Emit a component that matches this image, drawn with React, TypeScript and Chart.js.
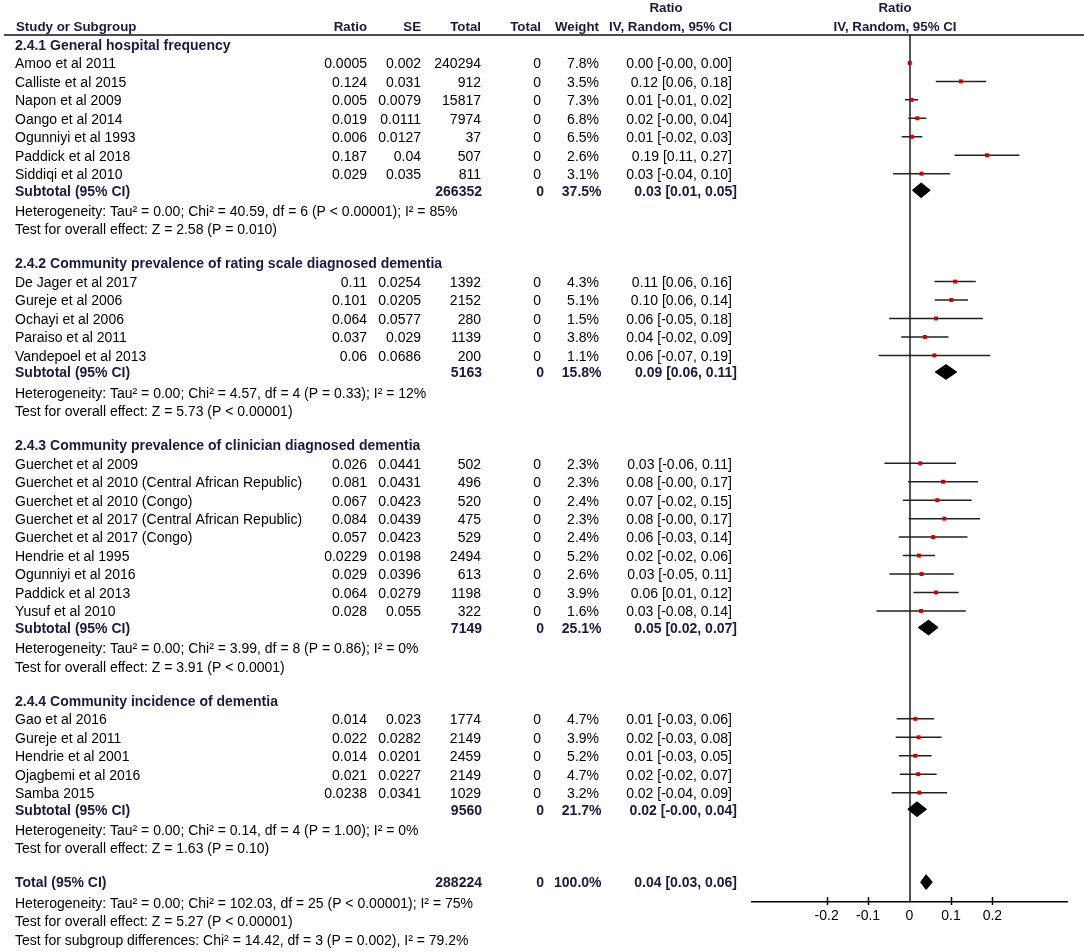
import React, { useEffect, useRef } from "react";
import { Chart, registerables } from "chart.js";

Chart.register(...registerables);

// ---------- data ----------
const groupTitles = [
  "2.4.1 General hospital frequency",
  "2.4.2 Community prevalence of rating scale diagnosed dementia",
  "2.4.3 Community prevalence of clinician diagnosed dementia",
  "2.4.4 Community incidence of dementia",
];

const studyNames = [
  "Amoo et al 2011",
  "Calliste et al 2015",
  "Napon et al 2009",
  "Oango et al 2014",
  "Ogunniyi et al 1993",
  "Paddick et al 2018",
  "Siddiqi et al 2010",
  "De Jager et al 2017",
  "Gureje et al 2006",
  "Ochayi et al 2006",
  "Paraiso et al 2011",
  "Vandepoel et al 2013",
  "Guerchet et al 2009",
  "Guerchet et al 2010 (Central African Republic)",
  "Guerchet et al 2010 (Congo)",
  "Guerchet et al 2017 (Central African Republic)",
  "Guerchet et al 2017 (Congo)",
  "Hendrie et al 1995",
  "Ogunniyi et al 2016",
  "Paddick et al 2013",
  "Yusuf et al 2010",
  "Gao et al 2016",
  "Gureje et al 2011",
  "Hendrie et al 2001",
  "Ojagbemi et al 2016",
  "Samba 2015",
];

const studyGroup = [0, 0, 0, 0, 0, 0, 0, 1, 1, 1, 1, 1, 2, 2, 2, 2, 2, 2, 2, 2, 2, 3, 3, 3, 3, 3];

const ratioText = [
  "0.0005", "0.124", "0.005", "0.019", "0.006", "0.187", "0.029",
  "0.11", "0.101", "0.064", "0.037", "0.06",
  "0.026", "0.081", "0.067", "0.084", "0.057", "0.0229", "0.029", "0.064", "0.028",
  "0.014", "0.022", "0.014", "0.021", "0.0238",
];

const seText = [
  "0.002", "0.031", "0.0079", "0.0111", "0.0127", "0.04", "0.035",
  "0.0254", "0.0205", "0.0577", "0.029", "0.0686",
  "0.0441", "0.0431", "0.0423", "0.0439", "0.0423", "0.0198", "0.0396", "0.0279", "0.055",
  "0.023", "0.0282", "0.0201", "0.0227", "0.0341",
];

const totals = [
  240294, 912, 15817, 7974, 37, 507, 811,
  1392, 2152, 280, 1139, 200,
  502, 496, 520, 475, 529, 2494, 613, 1198, 322,
  1774, 2149, 2459, 2149, 1029,
];

const controlTotals = [
  0, 0, 0, 0, 0, 0, 0,
  0, 0, 0, 0, 0,
  0, 0, 0, 0, 0, 0, 0, 0, 0,
  0, 0, 0, 0, 0,
];

const weights = [
  7.8, 3.5, 7.3, 6.8, 6.5, 2.6, 3.1,
  4.3, 5.1, 1.5, 3.8, 1.1,
  2.3, 2.3, 2.4, 2.3, 2.4, 5.2, 2.6, 3.9, 1.6,
  4.7, 3.9, 5.2, 4.7, 3.2,
];

const subTotals = [266352, 5163, 7149, 9560];
const subControl = [0, 0, 0, 0];
const subWeights = [37.5, 15.8, 25.1, 21.7];
const subEst = [0.028, 0.088, 0.046, 0.018];
const subLow = [0.007, 0.062, 0.021, -0.004];
const subHigh = [0.05, 0.114, 0.069, 0.041];

const hetTexts = [
  "Heterogeneity: Tau\u00B2 = 0.00; Chi\u00B2 = 40.59, df = 6 (P < 0.00001); I\u00B2 = 85%",
  "Heterogeneity: Tau\u00B2 = 0.00; Chi\u00B2 = 4.57, df = 4 (P = 0.33); I\u00B2 = 12%",
  "Heterogeneity: Tau\u00B2 = 0.00; Chi\u00B2 = 3.99, df = 8 (P = 0.86); I\u00B2 = 0%",
  "Heterogeneity: Tau\u00B2 = 0.00; Chi\u00B2 = 0.14, df = 4 (P = 1.00); I\u00B2 = 0%",
];
const effectTexts = [
  "Test for overall effect: Z = 2.58 (P = 0.010)",
  "Test for overall effect: Z = 5.73 (P < 0.00001)",
  "Test for overall effect: Z = 3.91 (P < 0.0001)",
  "Test for overall effect: Z = 1.63 (P = 0.10)",
];

const overallTotal = 288224;
const overallControl = 0;
const overallWeight = 100.0;
const overallEst = 0.04;
const overallLow = 0.027;
const overallHigh = 0.055;
const overallHet = "Heterogeneity: Tau\u00B2 = 0.00; Chi\u00B2 = 102.03, df = 25 (P < 0.00001); I\u00B2 = 75%";
const overallEffect = "Test for overall effect: Z = 5.27 (P < 0.00001)";
const subgroupDiff = "Test for subgroup differences: Chi\u00B2 = 14.42, df = 3 (P = 0.002), I\u00B2 = 79.2%";

const tickValues = [-0.2, -0.1, 0, 0.1, 0.2];
const axisMin = -0.38;
const axisMax = 0.38;

// ---------- layout helpers ----------
type Row = { kind: string; y: number; i: number };

function buildRows(): Row[] {
  const rows: Row[] = [];
  let cur = 0;
  groupTitles.forEach((_, g) => {
    rows.push({ kind: "heading", y: cur, i: g });
    studyNames.forEach((__, s) => {
      if (studyGroup[s] === g) {
        cur += 1;
        rows.push({ kind: "study", y: cur, i: s });
      }
    });
    cur += 0.9;
    rows.push({ kind: "subtotal", y: cur, i: g });
    cur += 1.1;
    rows.push({ kind: "het", y: cur, i: g });
    cur += 1;
    rows.push({ kind: "effect", y: cur, i: g });
    cur += 1.85;
  });
  rows.push({ kind: "total", y: cur, i: 0 });
  cur += 1.1;
  rows.push({ kind: "totalHet", y: cur, i: 0 });
  cur += 1;
  rows.push({ kind: "totalEffect", y: cur, i: 0 });
  cur += 1;
  rows.push({ kind: "subgroup", y: cur, i: 0 });
  return rows;
}

const FONT = '"Liberation Sans", Arial, sans-serif';
const REG = `14px ${FONT}`;
const BOLD = `bold 14px ${FONT}`;
const HEAD = `bold 13.3px ${FONT}`;
const NAVY = "#1a1a40";
const TEXT_DY = 1.5;

const COL = {
  name: 15,
  ratio: 367,
  se: 421,
  total: 481,
  total2: 541,
  weight: 599,
  ci: 732,
  ratioHead: 666,
  plotHead: 895,
};
// bold summary values sit slightly further right in the reference
const BCOL = { total: 482, total2: 544, weight: 601.5, ci: 737 };

function fmtCI(e: number, l: number, h: number) {
  return `${e.toFixed(2)} [${l.toFixed(2)}, ${h.toFixed(2)}]`;
}

export default function App() {
  const ref = useRef<HTMLCanvasElement | null>(null);

  useEffect(() => {
    if (!ref.current) return;
    const rows = buildRows();
    const studyRows = rows.filter((r) => r.kind === "study");
    const subRows = rows.filter((r) => r.kind === "subtotal");
    const totalRow = rows.find((r) => r.kind === "total")!;

    const ratios = ratioText.map(Number);
    const ses = seText.map(Number);

    const markerData = studyRows.map((r) => ({ x: ratios[r.i], y: r.y }));
    const ciData: any[] = [];
    studyRows.forEach((r) => {
      ciData.push({ x: ratios[r.i] - 1.96 * ses[r.i], y: r.y });
      ciData.push({ x: ratios[r.i] + 1.96 * ses[r.i], y: r.y });
      ciData.push({ x: null, y: null });
    });

    const dh = 0.4;
    const diamond = (e: number, l: number, h: number, y: number) => [
      { x: l, y },
      { x: e, y: y - dh },
      { x: h, y },
      { x: e, y: y + dh },
      { x: l, y },
    ];
    const diamondStyle = {
      showLine: true,
      fill: "shape",
      borderColor: "#000",
      backgroundColor: "#000",
      borderWidth: 1,
      pointRadius: 0,
      tension: 0,
    };
    const diamondSets: any[] = subRows.map((r) => ({
      ...diamondStyle,
      data: diamond(subEst[r.i], subLow[r.i], subHigh[r.i], r.y),
    }));
    diamondSets.push({
      ...diamondStyle,
      data: diamond(overallEst, overallLow, overallHigh, totalRow.y),
    });

    const textPlugin = {
      id: "forestText",
      afterDraw(chart: any) {
        const ctx = chart.ctx as CanvasRenderingContext2D;
        const ys = chart.scales.y;
        const xs = chart.scales.x;
        const area = chart.chartArea;
        ctx.save();
        // tick marks crossing the axis
        ctx.strokeStyle = "#000";
        ctx.lineWidth = 1.5;
        tickValues.forEach((v) => {
          if (v === 0) return;
          const px = Math.round(xs.getPixelForValue(v)) + 0.5;
          ctx.beginPath();
          ctx.moveTo(px, area.bottom - 5);
          ctx.lineTo(px, area.bottom + 3);
          ctx.stroke();
        });
        // header rule
        ctx.strokeStyle = "#111";
        ctx.lineWidth = 1.5;
        ctx.beginPath();
        ctx.moveTo(4, area.top);
        ctx.lineTo(1084, area.top);
        ctx.stroke();

        ctx.textBaseline = "middle";
        const put = (t: string, x: number, y: number, align: CanvasTextAlign, font: string) => {
          ctx.font = font;
          ctx.fillStyle = font === REG ? "#000" : NAVY;
          ctx.textAlign = align;
          ctx.fillText(t, x, y);
        };
        const py = (v: number) => ys.getPixelForValue(v) + TEXT_DY;

        // headers
        const h1 = 8;
        const h2 = 27;
        put("Ratio", COL.ratioHead, h1, "center", HEAD);
        put("Ratio", COL.plotHead, h1, "center", HEAD);
        put("Study or Subgroup", COL.name + 1, h2, "left", HEAD);
        put("Ratio", COL.ratio, h2, "right", HEAD);
        put("SE", COL.se, h2, "right", HEAD);
        put("Total", COL.total, h2, "right", HEAD);
        put("Total", COL.total2, h2, "right", HEAD);
        put("Weight", COL.weight, h2, "right", HEAD);
        put("IV, Random, 95% CI", COL.ci, h2, "right", HEAD);
        put("IV, Random, 95% CI", COL.plotHead, h2, "center", HEAD);

        rows.forEach((r) => {
          const y = py(r.y);
          switch (r.kind) {
            case "heading":
              put(groupTitles[r.i], COL.name, y, "left", BOLD);
              break;
            case "study": {
              const s = r.i;
              const e = ratios[s];
              const se = ses[s];
              put(studyNames[s], COL.name, y, "left", REG);
              put(ratioText[s], COL.ratio, y, "right", REG);
              put(seText[s], COL.se, y, "right", REG);
              put(String(totals[s]), COL.total, y, "right", REG);
              put(String(controlTotals[s]), COL.total2, y, "right", REG);
              put(weights[s].toFixed(1) + "%", COL.weight, y, "right", REG);
              put(fmtCI(e, e - 1.96 * se, e + 1.96 * se), COL.ci, y, "right", REG);
              break;
            }
            case "subtotal": {
              const g = r.i;
              put("Subtotal (95% CI)", COL.name, y, "left", BOLD);
              put(String(subTotals[g]), BCOL.total, y, "right", BOLD);
              put(String(subControl[g]), BCOL.total2, y, "right", BOLD);
              put(subWeights[g].toFixed(1) + "%", BCOL.weight, y, "right", BOLD);
              put(fmtCI(subEst[g], subLow[g], subHigh[g]), BCOL.ci, y, "right", BOLD);
              break;
            }
            case "het":
              put(hetTexts[r.i], COL.name, y, "left", REG);
              break;
            case "effect":
              put(effectTexts[r.i], COL.name, y, "left", REG);
              break;
            case "total":
              put("Total (95% CI)", COL.name, y, "left", BOLD);
              put(String(overallTotal), BCOL.total, y, "right", BOLD);
              put(String(overallControl), BCOL.total2, y, "right", BOLD);
              put(overallWeight.toFixed(1) + "%", BCOL.weight, y, "right", BOLD);
              put(fmtCI(overallEst, overallLow, overallHigh), BCOL.ci, y, "right", BOLD);
              break;
            case "totalHet":
              put(overallHet, COL.name, y, "left", REG);
              break;
            case "totalEffect":
              put(overallEffect, COL.name, y, "left", REG);
              break;
            case "subgroup":
              put(subgroupDiff, COL.name, y, "left", REG);
              break;
          }
        });
        ctx.restore();
      },
    };

    const chart = new Chart(ref.current, {
      type: "scatter",
      data: {
        datasets: [
          {
            data: markerData,
            pointStyle: "rect",
            pointRadius: 2.8,
            backgroundColor: "#d00000",
            borderWidth: 0,
            showLine: false,
          },
          {
            data: ciData,
            showLine: true,
            spanGaps: false,
            borderColor: "#222",
            borderWidth: 1.5,
            pointRadius: 0,
          },
          ...diamondSets,
        ],
      },
      options: {
        responsive: false,
        animation: false,
        devicePixelRatio: 1,
        events: [],
        layout: { padding: { left: 752, right: 17, top: 35, bottom: 10 } },
        plugins: { legend: { display: false }, tooltip: { enabled: false } },
        scales: {
          x: {
            type: "linear",
            min: axisMin,
            max: axisMax,
            afterBuildTicks: (scale: any) => {
              scale.ticks = tickValues.map((v) => ({ value: v }));
            },
            afterFit: (scale: any) => {
              scale.height = 40;
            },
            grid: {
              drawTicks: false,
              color: (c: any) => (c.tick && c.tick.value === 0 ? "#555" : "rgba(0,0,0,0)"),
              lineWidth: 2,
            },
            border: { display: true, color: "#000", width: 1.5 },
            ticks: {
              padding: 6,
              color: "#000",
              font: { family: FONT, size: 14 },
              callback: (v: any) => (v === 0 ? "0" : String(v)),
            },
          },
          y: {
            type: "linear",
            display: false,
            reverse: true,
            min: -0.515,
            max: 46.477,
          },
        },
      },
      plugins: [textPlugin],
    } as any);
    return () => chart.destroy();
  }, []);

  return (
    <div style={{ position: "fixed", left: 0, top: 0, width: 1084, height: 952, background: "#fff" }}>
      <canvas ref={ref} width={1084} height={952} style={{ display: "block" }} />
    </div>
  );
}
